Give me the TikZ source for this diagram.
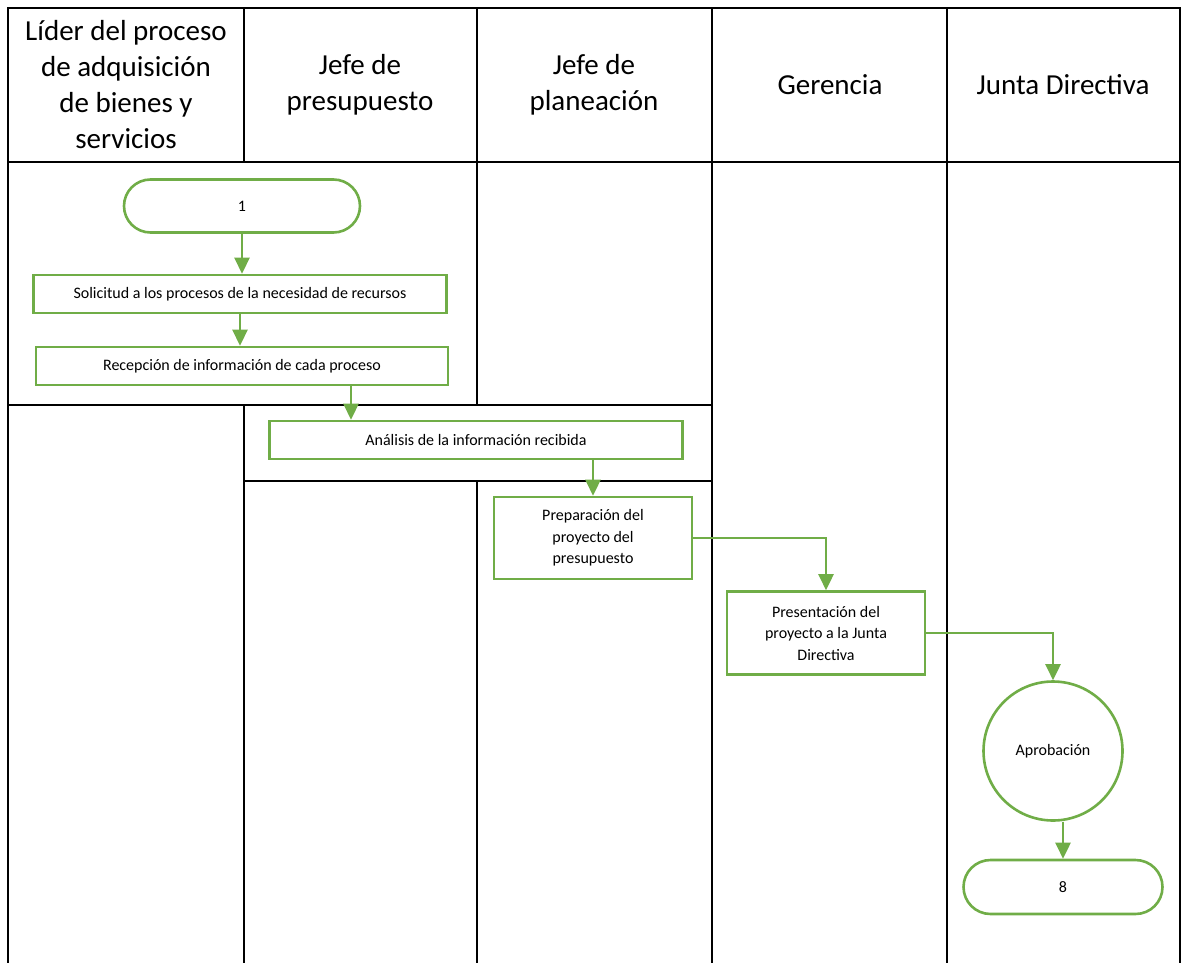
\documentclass[tikz,border=0pt]{standalone}
\usepackage{fontspec}
\setmainfont{Carlito}
\usetikzlibrary{arrows.meta,shapes.misc,shapes.geometric}
\definecolor{flowgreen}{HTML}{70AD47}
\begin{document}
\begin{tikzpicture}[x=1pt,y=-1pt,
  grid/.style={draw=black,line width=2pt},
  head/.style={align=center,font=\fontsize{29}{36}\selectfont,inner sep=0pt},
  proc/.style={draw=flowgreen,line width=2.6pt,fill=white,align=center,font=\fontsize{16}{21.5}\selectfont,inner sep=2pt},
  term/.style={draw=flowgreen,line width=2.6pt,fill=white,rounded rectangle,font=\fontsize{16}{18}\selectfont,inner sep=0pt},
  dec/.style={draw=flowgreen,line width=2.6pt,fill=white,circle,font=\fontsize{16}{18}\selectfont,inner sep=0pt},
  arr/.style={draw=flowgreen,line width=2.6pt,-{Triangle[width=15pt,length=16pt]}}]
\useasboundingbox (0,0) rectangle (1183,963);
% table frame
\draw[grid] (8,963) -- (8,8) -- (1180,8) -- (1180,963);
\draw[grid] (8,162) -- (1180,162);
\foreach \x in {244,477,712,947} \draw[grid] (\x,8) -- (\x,162);
\draw[grid] (477,162) -- (477,405);
\draw[grid] (712,162) -- (712,963);
\draw[grid] (947,162) -- (947,963);
\draw[grid] (244,405) -- (244,963);
\draw[grid] (477,481) -- (477,963);
\draw[grid] (8,405) -- (712,405);
\draw[grid] (244,481) -- (712,481);
% headers
\node[head] (h1) at (126,85) {Líder del proceso\\de adquisición\\de bienes y\\servicios};
\node[head] (h2) at (360,85) {Jefe de\\presupuesto};
\node[head] (h3) at (594,85) {Jefe de\\planeación};
\node[head] (h4) at (830,85) {Gerencia};
\node[head] (h5) at (1063,85) {Junta Directiva};
% flow
\node[term,minimum width=236pt,minimum height=53pt] (start) at (242,206) {1};
\node[proc,minimum width=413pt,minimum height=38pt] (sol) at (240,294) {Solicitud a los procesos de la necesidad de recursos};
\node[proc,minimum width=412pt,minimum height=38pt] (rec) at (242,366) {Recepción de información de cada proceso};
\node[proc,minimum width=413pt,minimum height=38pt] (ana) at (476,440) {Análisis de la información recibida};
\node[proc,minimum width=198pt,minimum height=82pt] (prep) at (593,538) {Preparación del\\proyecto del\\presupuesto};
\node[proc,minimum width=198pt,minimum height=83pt] (pres) at (826,633) {Presentación del\\proyecto a la Junta\\Directiva};
\node[dec,minimum size=139pt] (apr) at (1053,751) {Aprobación};
\node[term,minimum width=199pt,minimum height=54pt] (end) at (1063,887) {8};
% connectors
\draw[arr] (start.south) -- (start.south |- sol.north);
\draw[arr] (sol.south) -- (sol.south |- rec.north);
\coordinate (recout) at ([xshift=109pt]rec.south);
\draw[arr] (recout) -- (recout |- ana.north);
\draw[arr] (prep.north |- ana.south) -- (prep.north);
\draw[arr] (prep.east) -| (pres.north);
\draw[arr] (pres.east) -| (apr.north);
\draw[arr] (end.north |- apr.south) -- (end.north);
\end{tikzpicture}
\end{document}
